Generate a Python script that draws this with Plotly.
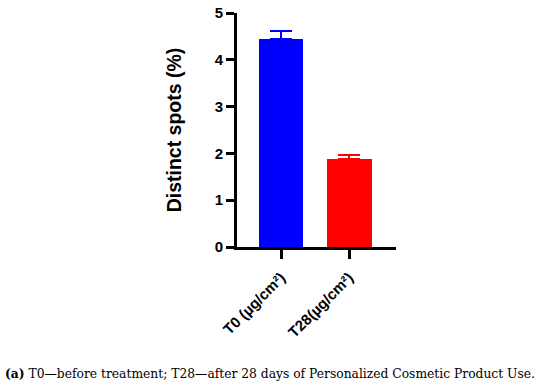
import plotly.graph_objects as go

categories = ["T0 (µg/cm²)", "T28(µg/cm²)"]
values = [4.45, 1.87]
errors_up = [0.16, 0.09]
colors = ["#0000FF", "#FF0000"]
y_ticks = [0, 1, 2, 3, 4, 5]
caption = "<b>(a)</b> T0—before treatment; T28—after 28 days of Personalized Cosmetic Product Use."

fig = go.Figure()
for cat, v, e, c in zip(categories, values, errors_up, colors):
    fig.add_trace(go.Bar(
        x=[cat], y=[v], marker=dict(color=c, line=dict(width=0)),
        width=0.66,
        error_y=dict(type="data", symmetric=False, array=[e], arrayminus=[0],
                     color=c, thickness=2, width=11),
        showlegend=False,
    ))

fig.update_layout(
    width=550, height=385,
    margin=dict(l=237, r=154, t=13, b=138, autoexpand=False),
    plot_bgcolor="white", paper_bgcolor="white",
    bargap=0,
    xaxis=dict(
        type="category", range=[-0.647, 1.69], automargin=False,
        showline=True, linecolor="black", linewidth=3,
        ticks="outside", ticklen=9, tickwidth=2.5, tickcolor="black",
        tickangle=-45, showgrid=False, zeroline=False, ticklabelstandoff=4,
        tickfont=dict(family="Liberation Sans", size=15, color="black", weight="bold"),
    ),
    yaxis=dict(
        range=[0, 5], tickvals=y_ticks, automargin=False,
        showline=True, linecolor="black", linewidth=3,
        ticks="outside", ticklen=8, tickwidth=2.5, tickcolor="black",
        showgrid=False, zeroline=False,
        tickfont=dict(family="Liberation Sans", size=15, color="black", weight="bold"),
        title=dict(text="Distinct spots (%)", standoff=28,
                   font=dict(family="Liberation Sans", size=19.5, color="black", weight="bold")),
    ),
    annotations=[dict(
        text=caption, xref="paper", yref="paper",
        x=-234/159, y=-0.54, xanchor="left", yanchor="middle", showarrow=False,
        font=dict(family="DejaVu Serif", size=12.3, color="black"),
    )],
)

fig.write_html("out.html", config={"displayModeBar": False},
               post_script="document.body.style.margin='0';")
